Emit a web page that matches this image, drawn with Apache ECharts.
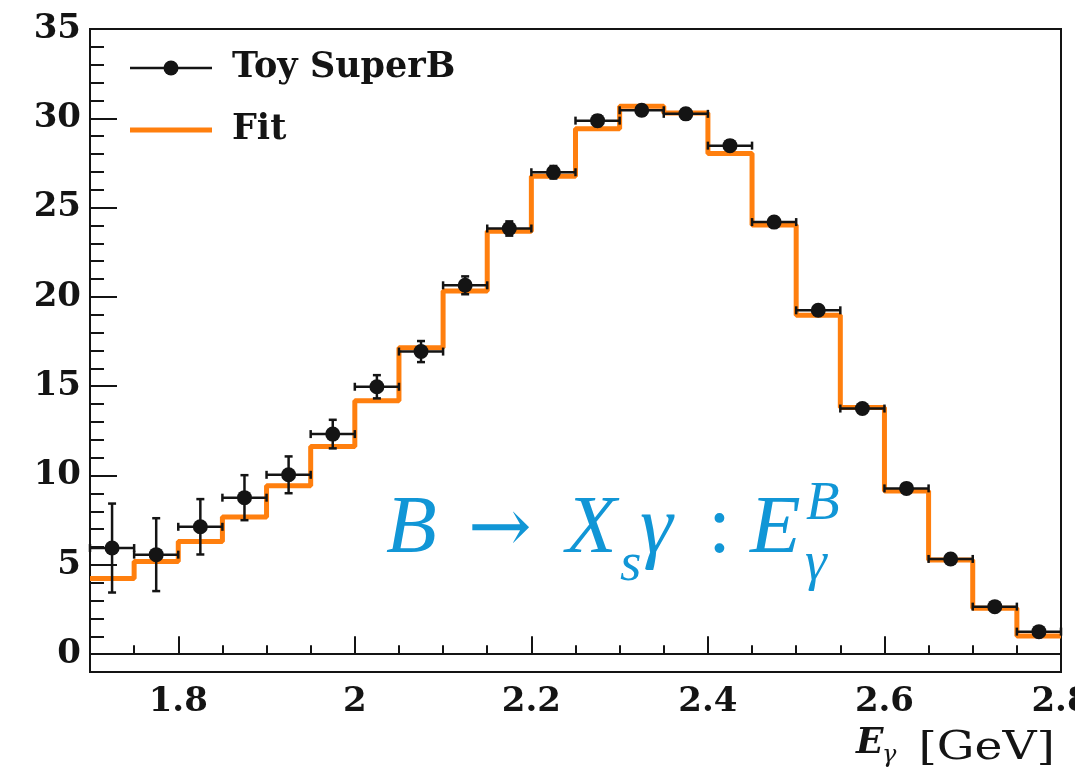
<!DOCTYPE html>
<html>
<head>
<meta charset="utf-8">
<script src="https://cdn.jsdelivr.net/npm/echarts@6/dist/echarts.min.js"></script>
<style>
  html, body { margin: 0; padding: 0; background: #ffffff; }
  #chart { width: 1075px; height: 773px; }
</style>
</head>
<body>
<div id="chart"></div>
<script>
// Photon energy spectrum E_gamma for B -> X_s gamma: toy SuperB data and fit
const binCenters = [1.725, 1.775, 1.825, 1.875, 1.925, 1.975, 2.025, 2.075, 2.125, 2.175, 2.225,
                    2.275, 2.325, 2.375, 2.425, 2.475, 2.525, 2.575, 2.625, 2.675, 2.725, 2.775];
const binHalfWidth = 0.025;
const toyCounts = [5.94, 5.57, 7.13, 8.76, 10.04, 12.32, 14.97, 16.94, 20.65, 23.83, 26.98,
                   29.87, 30.45, 30.25, 28.47, 24.19, 19.25, 13.75, 9.28, 5.33, 2.66, 1.26];
const toyErrors = [2.49, 2.04, 1.55, 1.26, 1.03, 0.80, 0.65, 0.59, 0.50, 0.40, 0.35,
                   0.30, 0.28, 0.28, 0.28, 0.26, 0.24, 0.22, 0.20, 0.18, 0.16, 0.15];
const fitCounts = [4.24, 5.18, 6.30, 7.68, 9.43, 11.63, 14.18, 17.16, 20.33, 23.68, 26.76,
                   29.41, 30.67, 30.30, 28.03, 24.02, 18.97, 13.81, 9.13, 5.27, 2.57, 1.01];
const xMajorTicks = [1.8, 2.0, 2.2, 2.4, 2.6, 2.8];
const yMajorTicks = [0, 5, 10, 15, 20, 25, 30, 35];

const toyData = binCenters.map((c, i) => [c, toyCounts[i], toyErrors[i]]);
// histogram outline: one point per lower bin edge, plus the closing upper edge
const fitSteps = binCenters.map((c, i) => [c - binHalfWidth, fitCounts[i]]);
fitSteps.push([binCenters[binCenters.length - 1] + binHalfWidth, fitCounts[fitCounts.length - 1]]);

const INK = '#141414';
const ORANGE = '#ff7f0e';
const BLUE = '#1196d6';
const labelFont = { fontFamily: 'DejaVu Serif', fontWeight: 'bold', fontSize: 34, color: INK };

const chart = echarts.init(document.getElementById('chart'), null, { renderer: 'canvas' });

function renderErrorBar(params, api) {
  const x = api.value(0), y = api.value(1), e = api.value(2);
  const c = api.coord([x, y]);
  const l = api.coord([x - binHalfWidth, y]);
  const r = api.coord([x + binHalfWidth, y]);
  const t = api.coord([x, y + e]);
  const b = api.coord([x, y - e]);
  const cap = 4;
  const st = { stroke: INK, lineWidth: 2.5 };
  return {
    type: 'group',
    children: [
      { type: 'line', shape: { x1: l[0], y1: c[1], x2: r[0], y2: c[1] }, style: st },
      { type: 'line', shape: { x1: l[0], y1: c[1] - cap, x2: l[0], y2: c[1] + cap }, style: st },
      { type: 'line', shape: { x1: r[0], y1: c[1] - cap, x2: r[0], y2: c[1] + cap }, style: st },
      { type: 'line', shape: { x1: c[0], y1: t[1], x2: c[0], y2: b[1] }, style: st },
      { type: 'line', shape: { x1: c[0] - cap, y1: t[1], x2: c[0] + cap, y2: t[1] }, style: st },
      { type: 'line', shape: { x1: c[0] - cap, y1: b[1], x2: c[0] + cap, y2: b[1] }, style: st }
    ]
  };
}

const option = {
  animation: false,
  backgroundColor: '#ffffff',
  grid: {
    left: 90, right: 14, top: 29, bottom: 101,
    outerBoundsMode: 'none', containLabel: false,
    show: true, borderColor: INK, borderWidth: 2, backgroundColor: 'transparent'
  },
  xAxis: [
    {
      type: 'value', min: 1.7, max: 2.8, interval: 0.05, position: 'bottom',
      axisLine: { show: true, lineStyle: { color: INK, width: 2 } },
      axisTick: { show: true, inside: true, length: 9, lineStyle: { color: INK, width: 2 } },
      axisLabel: Object.assign({
        margin: 13,
        showMinLabel: true, showMaxLabel: true, hideOverlap: false,
        formatter: function (v) {
          const k = Math.round(v * 100);
          return (k % 20 === 0 && k >= 180) ? String(+v.toFixed(1)) : '';
        }
      }, labelFont),
      splitLine: { show: false }
    },
    {
      type: 'value', min: 1.7, max: 2.8, position: 'bottom', offset: 0,
      axisLine: { show: false },
      axisTick: { show: true, inside: true, length: 18, customValues: xMajorTicks, lineStyle: { color: INK, width: 2 } },
      axisLabel: { show: false },
      splitLine: { show: false }
    }
  ],
  yAxis: [
    {
      type: 'value', min: -1, max: 35, interval: 1, position: 'left',
      axisLine: { show: true, lineStyle: { color: INK, width: 2 } },
      axisTick: { show: true, inside: true, length: 14, lineStyle: { color: INK, width: 2 } },
      axisLabel: Object.assign({
        margin: 9,
        formatter: function (v) { return (Math.round(v) % 5 === 0 && v >= 0) ? String(Math.round(v)) : ''; }
      }, labelFont),
      splitLine: { show: false }
    },
    {
      type: 'value', min: -1, max: 35, position: 'left', offset: 0,
      axisLine: { show: false },
      axisTick: { show: true, inside: true, length: 27, customValues: yMajorTicks, lineStyle: { color: INK, width: 2 } },
      axisLabel: { show: false },
      splitLine: { show: false }
    }
  ],
  series: [
    {
      name: 'Fit', type: 'line', step: 'end', data: fitSteps,
      xAxisIndex: 0, yAxisIndex: 0,
      symbol: 'none', lineStyle: { color: ORANGE, width: 5 }, z: 2
    },
    {
      name: 'Toy SuperB errors', type: 'custom', data: toyData,
      xAxisIndex: 0, yAxisIndex: 0,
      renderItem: renderErrorBar, z: 3
    },
    {
      name: 'Toy SuperB', type: 'scatter', data: toyData,
      xAxisIndex: 0, yAxisIndex: 0,
      symbol: 'circle', symbolSize: 15, itemStyle: { color: INK, opacity: 1 }, z: 4
    }
  ],
  graphic: [
    // legend
    { type: 'line', shape: { x1: 130, y1: 68, x2: 212, y2: 68 }, style: { stroke: INK, lineWidth: 2.5 } },
    { type: 'circle', shape: { cx: 171, cy: 68, r: 7.5 }, style: { fill: INK } },
    { type: 'text', x: 232, y: 68, style: { text: 'Toy SuperB', fill: INK, font: 'bold 35px "DejaVu Serif"', verticalAlign: 'middle' } },
    { type: 'line', shape: { x1: 130, y1: 130, x2: 212, y2: 130 }, style: { stroke: ORANGE, lineWidth: 5 } },
    { type: 'text', x: 232, y: 130, style: { text: 'Fit', fill: INK, font: 'bold 35px "DejaVu Serif"', verticalAlign: 'middle' } },
    // process annotation
    { type: 'text', x: 386, y: 530, style: { text: 'B', fill: BLUE, font: 'italic 83px "Liberation Serif"', verticalAlign: 'middle' } },
    { type: 'text', x: 468, y: 532, style: { text: '\u2192', fill: BLUE, font: '76px "DejaVu Serif"', verticalAlign: 'middle' } },
    { type: 'text', x: 566, y: 530, style: { text: 'X', fill: BLUE, font: 'italic 83px "Liberation Serif"', verticalAlign: 'middle' } },
    { type: 'text', x: 620, y: 566, style: { text: 's', fill: BLUE, font: 'italic 55px "Liberation Serif"', verticalAlign: 'middle' } },
    { type: 'text', x: 640, y: 530, style: { text: '\u03b3', fill: BLUE, font: 'italic 83px "Liberation Serif"', verticalAlign: 'middle' } },
    { type: 'text', x: 708, y: 530, style: { text: ':', fill: BLUE, font: '83px "Liberation Serif"', verticalAlign: 'middle' } },
    { type: 'text', x: 750, y: 530, style: { text: 'E', fill: BLUE, font: 'italic 83px "Liberation Serif"', verticalAlign: 'middle' } },
    { type: 'text', x: 806, y: 505, style: { text: 'B', fill: BLUE, font: 'italic 55px "Liberation Serif"', verticalAlign: 'middle' } },
    { type: 'text', x: 805, y: 565, style: { text: '\u03b3', fill: BLUE, font: 'italic 55px "Liberation Serif"', verticalAlign: 'middle' } },
    // x-axis title
    { type: 'text', x: 856, y: 744, style: { text: 'E', fill: INK, font: 'italic bold 36px "DejaVu Serif"', verticalAlign: 'middle' } },
    { type: 'text', x: 882, y: 756, style: { text: '\u03b3', fill: INK, font: 'italic 24px "DejaVu Serif"', verticalAlign: 'middle' } },
    { type: 'text', x: 1055, y: 749, scaleX: 1.18, originX: 0, originY: 0,
      style: { text: '[GeV]', fill: INK, font: '40px "DejaVu Serif"', verticalAlign: 'middle', align: 'right' } }
  ]
};

chart.setOption(option);
</script>
</body>
</html>
